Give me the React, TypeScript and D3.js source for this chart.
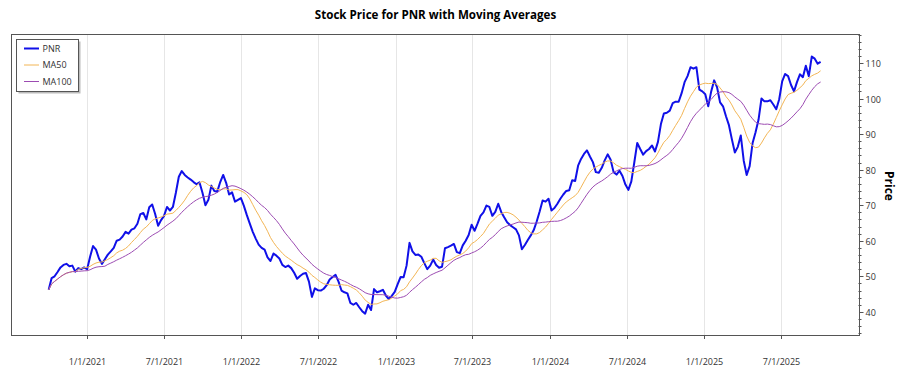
import React from "react";
import * as d3 from "d3";

// Weekly closing prices for PNR, starting 2020-10-02
const startDate = new Date(2020, 9, 2);
const prices: number[] = [
  46.2, 49.5, 50, 51.2, 52.5, 53.2, 53.5, 52.8, 53.0, 51.3,
  52.3, 52.0, 52.5, 52.0, 55.5, 58.5, 57.5, 55.0, 53.5, 54.8,
  56.1, 57, 58, 60, 60.3, 61.2, 62.5, 62.0, 63.1, 63.5,
  64.8, 67.5, 67.8, 66, 69.4, 70.2, 67.5, 64.2, 65.8, 67,
  69.5, 68.5, 69.5, 73.5, 78, 79.6, 78.5, 77.8, 77.2, 76.5,
  75.9, 76.4, 73.5, 70.0, 71.5, 75.5, 74.0, 73.8, 76.5, 78.5,
  76.3, 73, 73.6, 71, 71.5, 72, 69.8, 67.2, 64.8, 62.5,
  60.6, 58.9, 58, 57.5, 55.3, 54.3, 56.4, 55.8, 55, 53.2,
  52.6, 53, 52.3, 51, 49.3, 50.1, 50.7, 50.9, 48.5, 44.2,
  46.6, 46.1, 46, 46.5, 47.5, 49.1, 49.8, 50.4, 48.5, 46,
  45.5, 45.2, 42.5, 42, 42.5, 41.3, 40.2, 39.5, 42, 40.5,
  46.4, 45.5, 45.8, 46.2, 44.6, 43.6, 44.5, 45.6, 47.8, 49.8,
  49.7, 53, 59.4, 57, 56, 56.1, 55.5, 53.7, 52, 53,
  54.7, 53.2, 52.4, 52.7, 57.9, 58.2, 58.6, 59.1, 56.8, 56.5,
  58.7, 60, 61.6, 64.5, 62.8, 64.8, 67, 68, 69.9, 69.5,
  67, 68.1, 70.4, 68.1, 66.6, 65.2, 64.4, 63.8, 63.2, 61.5,
  57.6, 58.8, 60.2, 61.5, 63, 65.4, 68.2, 71.3, 71, 71.8,
  68.5, 69.2, 70.4, 71.8, 73, 74, 74.2, 77, 76.8, 81.1,
  83, 84.4, 85.4, 83.7, 82.1, 79.3, 79.1, 80.5, 82.6, 84.3,
  82.8, 79.3, 78.6, 79.7, 78.2, 75.8, 74.3, 76.7, 82, 87.5,
  85.8, 84.2, 85.2, 85.8, 86.8, 85.1, 87.8, 92.8, 95.8, 96,
  96.6, 98.7, 99.1, 99.1, 101.5, 104.6, 106.3, 108.8, 108.4, 108.8,
  102.5, 102, 101.2, 97.8, 102, 105.1, 103.1, 98.9, 97.8, 95,
  92.5, 88.5, 84.8, 86.4, 89.6, 82.5, 78.5, 81, 87.5, 90.5,
  94, 100, 99.2, 99.2, 99.5, 98.3, 97, 99.8, 104.8, 106.9,
  106.3, 103.8, 102, 104.6, 106.8, 106, 109.2, 106.3, 111.8, 111.2,
  109.8, 110.3,
];

// Moving average windows (50 / 100 trading days ~ 10 / 20 weeks)
const maWindows = [
  { name: "MA50", weeks: 10, color: "#f2b555" },
  { name: "MA100", weeks: 20, color: "#9c4cb2" },
];

const xTickDates = [
  new Date(2021, 0, 1), new Date(2021, 6, 1),
  new Date(2022, 0, 1), new Date(2022, 6, 1),
  new Date(2023, 0, 1), new Date(2023, 6, 1),
  new Date(2024, 0, 1), new Date(2024, 6, 1),
  new Date(2025, 0, 1), new Date(2025, 6, 1),
];
const xTickLabels = [
  "1/1/2021", "7/1/2021", "1/1/2022", "7/1/2022", "1/1/2023",
  "7/1/2023", "1/1/2024", "7/1/2024", "1/1/2025", "7/1/2025",
];
const yTicks = [40, 50, 60, 70, 80, 90, 100, 110];

const FONT = "'Open Sans', 'Noto Sans', sans-serif";

export default function App() {
  const W = 900, H = 375;
  const left = 11.5, right = 859.5, top = 34.5, bottom = 335.5;

  const dates = prices.map((_, i) => d3.timeDay.offset(startDate, i * 7));
  const x = d3
    .scaleTime()
    .domain([new Date(2020, 6, 6), new Date(2026, 0, 3)])
    .range([left, right]);
  const y = d3.scaleLinear().domain([33.35, 118]).range([bottom, top]);

  const ma = (w: number) =>
    prices.map((_, i) => {
      const s = Math.max(0, i - w + 1);
      return d3.mean(prices.slice(s, i + 1)) as number;
    });

  const line = d3
    .line<number>()
    .x((_, i) => x(dates[i]))
    .y((d) => y(d))
    .curve(d3.curveLinear);

  const minorTicks = d3.range(34, 119, 2).filter((v) => v % 10 !== 0);

  const legendItems = [
    { name: "PNR", color: "#1010e8", width: 2 },
    ...maWindows.map((m) => ({ name: m.name, color: m.color, width: 1 })),
  ];

  return (
    <svg width={W} height={H} style={{ position: "absolute", left: 0, top: 0 }}>
      <rect width={W} height={H} fill="#fff" />
      <text
        x={(left + right) / 2}
        y={18.5}
        textAnchor="middle"
        fontFamily={FONT}
        fontWeight="bold"
        fontSize={11.6}
        fill="#000"
      >
        Stock Price for PNR with Moving Averages
      </text>

      {/* gridlines */}
      {xTickDates.map((d, i) => (
        <line
          key={"g" + i}
          x1={Math.round(x(d)) + 0.5}
          x2={Math.round(x(d)) + 0.5}
          y1={top}
          y2={bottom}
          stroke="#e6e6e6"
          strokeWidth={1}
        />
      ))}

      <defs>
        <clipPath id="plotclip">
          <rect x={left} y={top} width={right - left} height={bottom - top} />
        </clipPath>
      </defs>
      <g clipPath="url(#plotclip)">
        <path d={line(prices) || ""} fill="none" stroke="#1010e8" strokeWidth={2} strokeLinejoin="round" />
        {maWindows.map((m) => (
          <path key={m.name} d={line(ma(m.weeks)) || ""} fill="none" stroke={m.color} strokeWidth={1} />
        ))}
      </g>

      {/* frame */}
      <rect x={left} y={top} width={right - left} height={bottom - top} fill="none" stroke="#555" strokeWidth={1} />

      {/* x ticks */}
      {xTickDates.map((d, i) => {
        const xx = Math.round(x(d)) + 0.5;
        return (
          <g key={"x" + i}>
            <line x1={xx} x2={xx} y1={bottom} y2={bottom + 3.5} stroke="#555" />
            <text
              x={xx}
              y={365}
              textAnchor="middle"
              fontFamily={FONT}
              fontSize={9}
              fill="#333"
            >
              {xTickLabels[i]}
            </text>
          </g>
        );
      })}

      {/* y axis on the right */}
      {minorTicks.map((v) => (
        <line key={"m" + v} x1={right - 1} x2={right + 2} y1={Math.round(y(v)) + 0.5} y2={Math.round(y(v)) + 0.5} stroke="#555" />
      ))}
      {yTicks.map((v) => {
        const yy = Math.round(y(v)) + 0.5;
        return (
          <g key={"y" + v}>
            <line x1={right} x2={right + 4} y1={yy} y2={yy} stroke="#555" />
            <text x={right + 6} y={yy + 3.2} fontFamily={FONT} fontSize={9} fill="#333">
              {v}
            </text>
          </g>
        );
      })}
      <text
        transform={`translate(888,186) rotate(90)`}
        textAnchor="middle"
        dominantBaseline="middle"
        fontFamily={FONT}
        fontWeight="bold"
        fontSize={12}
        fill="#000"
      >
        Price
      </text>

      {/* legend */}
      <rect x={18.5} y={41.5} width={62} height={52} fill="#bbb" />
      <rect x={16.5} y={39.5} width={62} height={52} fill="#fff" stroke="#555" strokeWidth={1} />
      {legendItems.map((it, i) => {
        const ly = 48.5 + i * 16.5;
        return (
          <g key={it.name}>
            <line x1={24} x2={39} y1={ly} y2={ly} stroke={it.color} strokeWidth={it.width} />
            <text x={42.5} y={ly + 3} fontFamily={FONT} fontSize={9} fill="#333">
              {it.name}
            </text>
          </g>
        );
      })}
    </svg>
  );
}
